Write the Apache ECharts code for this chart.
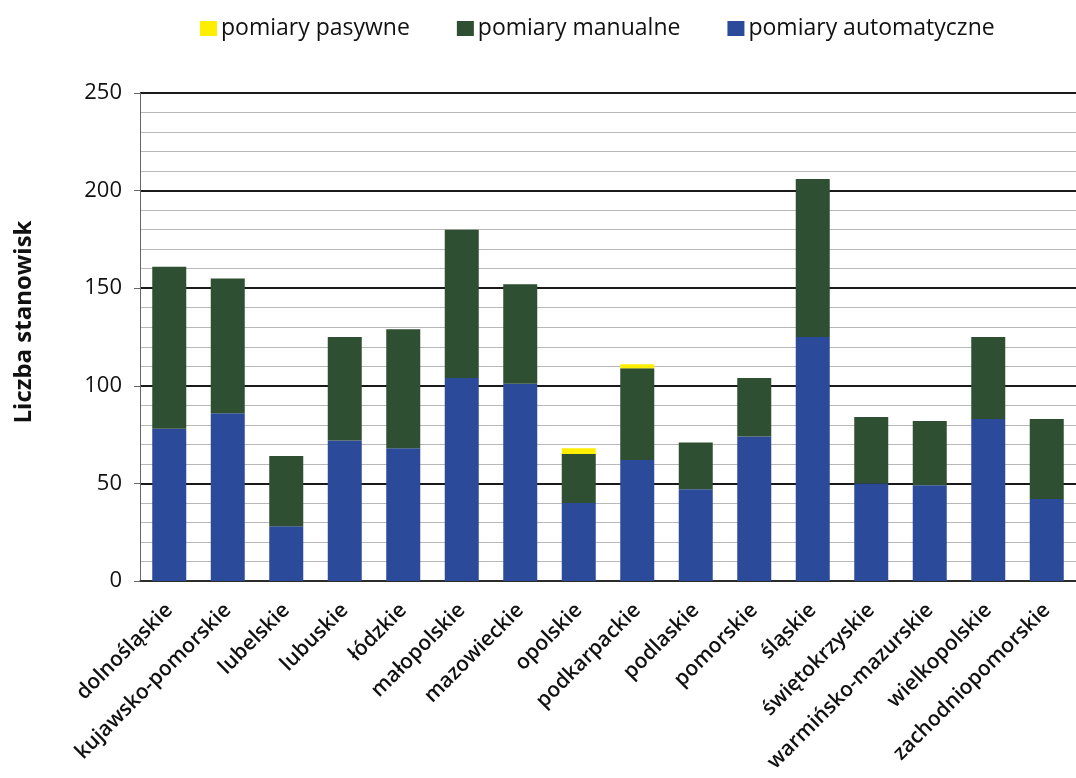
<!DOCTYPE html>
<html><head><meta charset="utf-8">
<script src="https://cdn.jsdelivr.net/npm/echarts@6/dist/echarts.min.js"></script>
<style>html,body{margin:0;padding:0;background:#fff}#c{width:1076px;height:778px}</style>
</head><body><div id="c"></div>
<script>
const categories = ['dolnośląskie','kujawsko-pomorskie','lubelskie','lubuskie','łódzkie','małopolskie','mazowieckie','opolskie','podkarpackie','podlaskie','pomorskie','śląskie','świętokrzyskie','warmińsko-mazurskie','wielkopolskie','zachodniopomorskie'];
const automatyczne = [78,86,28,72,68,104,101,40,62,47,74,125,50,49,83,42];
const manualne     = [83,69,36,53,61,76,51,25,47,24,30,81,34,33,42,41];
const pasywne      = [0,0,0,0,0,0,0,3,2,0,0,0,0,0,0,0];
const yTicks = [0,50,100,150,200,250];
const yTitle = 'Liczba stanowisk';

const chart = echarts.init(document.getElementById('c'));
const font = '"Open Sans", "Noto Sans", sans-serif';
chart.setOption({
  animation:false,
  backgroundColor:'#fff',
  legend:{
    top:12, left:195, itemGap:47, itemWidth:17, itemHeight:15, icon:'rect',
    textStyle:{fontFamily:font, fontSize:23, color:'#111', padding:[0,0,0,-1]},
    data:['pomiary pasywne','pomiary manualne','pomiary automatyczne']
  },
  graphic:[{
    type:'text', x:24, y:322, rotation:Math.PI/2,
    style:{text:yTitle, align:'center', verticalAlign:'middle', fill:'#111',
      font:'bold 24px "Open Sans", "Noto Sans", sans-serif'}
  }],
  grid:{left:140, top:93, width:944, bottom:197, containLabel:false},
  xAxis:{
    type:'category', data:categories,
    axisLine:{lineStyle:{color:'#333', width:1.5}},
    axisTick:{show:false},
    axisLabel:{rotate:45, interval:0, fontFamily:font, fontWeight:600, fontSize:21, color:'#111', margin:26}
  },
  yAxis:{
    type:'value', min:0, max:250, interval:50,
    axisLine:{show:true, lineStyle:{color:'#666', width:1}},
    axisTick:{show:true, length:6, lineStyle:{color:'#666'}},
    axisLabel:{fontFamily:font, fontSize:22, color:'#111', margin:18,
      formatter:v=> yTicks.includes(v)? String(v):''},
    splitLine:{lineStyle:{color:'#1a1a1a', width:2}},
    minorTick:{show:false, splitNumber:5},
    minorSplitLine:{show:true, lineStyle:{color:'#b8b8b8', width:1}}
  },
  series:[
    {name:'pomiary automatyczne', type:'bar', stack:'s', data:automatyczne, barWidth:34, itemStyle:{color:'#2b4a99'}},
    {name:'pomiary manualne', type:'bar', stack:'s', data:manualne, barWidth:34, itemStyle:{color:'#2e4f31'}},
    {name:'pomiary pasywne', type:'bar', stack:'s', data:pasywne, barWidth:34, itemStyle:{color:'#ffee00'}}
  ]
});
</script></body></html>
